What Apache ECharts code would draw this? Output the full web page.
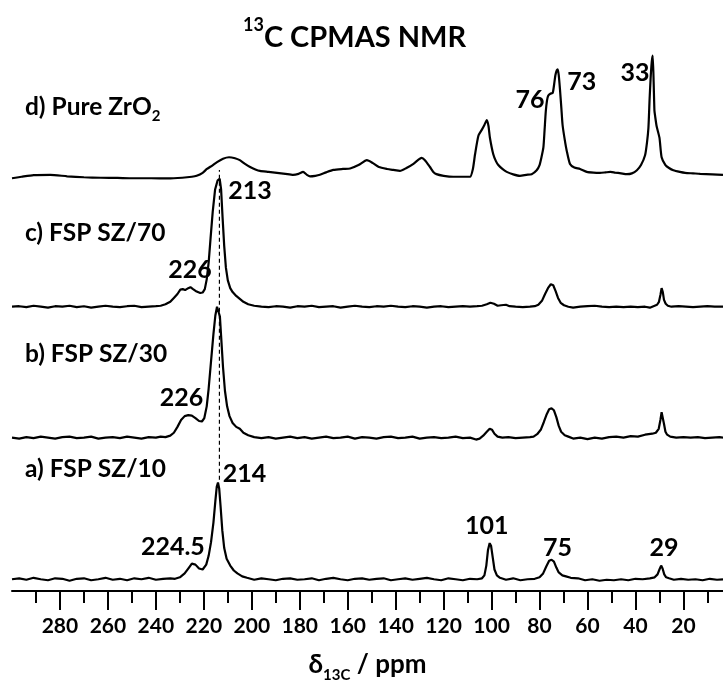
<!DOCTYPE html>
<html lang="en">
<head>
    <meta charset="UTF-8">
    <title>13C CPMAS NMR</title>
    <script src="https://cdn.jsdelivr.net/npm/echarts@6/dist/echarts.min.js"></script>
    <style>
        body { margin: 0; padding: 0; background: #fff; }
        #chart { width: 723px; height: 688px; }
    </style>
</head>
<body>
<div id="chart"></div>
<script>
    // axis ticks (ppm)
    const majorTicks = [280, 260, 240, 220, 200, 180, 160, 140, 120, 100, 80, 60, 40, 20];
    const minorTicks = [290, 270, 250, 230, 210, 190, 170, 150, 130, 110, 90, 70, 50, 30, 10];

    // spectra: [ppm, intensity above own baseline]
    const specA = [
        [300,0],[297,1],[294,-0.5],[291,1.5],[288,0],[285,-1],[282,1],[279,0.5],[276,-1.5],[273,0.5],[270,1],[267,-1],[264,0],[261,1.5],[258,-0.5],[255,0.5],[252,-1],[249,1],[246,0],[243,1.5],[240,-0.5],[237,0.5],[234,1],[232,0.5],[230,2],[228,6],[226.5,11],[225,16],[223.5,15],[222,11],[220.5,10],[219,15],[218,24],[217,38],[216,58],[215.2,80],[214.6,95],[214.1,99],[213.6,93],[213,74],[212.3,50],[211.5,32],[210.5,21],[209,14],[207.5,9],[206,6],[204,3],[202,1.5],[199,-0.5],[196,1],[193,0],[190,-1],[187,0.5],[184,1],[181,-0.5],[178,0],[175,1],[172,-1],[169,0.5],[166,1.5],[163,0],[160,-1],[157,0.5],[154,1],[151,-0.5],[148,0.5],[145,1],[142,-1],[139,0],[136,1],[133,-0.5],[130,0.5],[127,1.5],[124,0],[121,-1],[118,1],[115,0],[112,-1],[109,0.5],[106,0],[104,1],[103,4],[102.2,14],[101.5,30],[100.8,37],[100.2,34],[99.5,22],[98.8,10],[97.8,4],[96.5,1.5],[94,-0.5],[91,1],[88,-1],[85,0],[82,0.5],[80,2],[78.5,6],[77.2,13],[76,19],[75,20],[74,18],[73,12],[72,7],[70.5,4],[69,3],[67,1.5],[64,1],[61,-1],[58,0],[55,-1.5],[52,-0.5],[49,-1],[46,0],[43,-1],[40,0.5],[37,0],[34,1],[32,2],[30.8,5],[30,10],[29.3,14],[28.7,11],[28,5],[27.2,2],[26,1],[24,-0.5],[21,0.5],[18,-0.5],[15,0],[12,-1],[9,0.5],[6,-0.5],[3.5,0]
    ];
    const specB = [
        [300,0],[297,-1],[294,0.5],[291,-0.5],[288,1],[285,0],[282,-1],[279,0.5],[276,1],[273,-0.5],[270,0],[267,1],[264,-1],[261,0],[258,0.5],[255,-0.5],[252,1],[249,0],[246,-1],[243,0.5],[240,0],[238,1],[236,0.5],[234,2],[232.5,5],[231,11],[229.5,18],[228,22],[226.5,23],[225,22.5],[223.5,20],[222,17],[220.8,16.5],[219.8,20],[218.8,32],[218,50],[217,78],[216,106],[215.2,125],[214.5,134],[213.9,135],[213.3,124],[212.7,100],[212,72],[211.2,48],[210.3,32],[209.3,22],[208,15],[206.5,11],[205,9],[203.5,5],[201.5,2.5],[199,0.5],[196,-0.5],[193,0.5],[190,-1],[187,0],[184,1],[181,-0.5],[178,0.5],[175,-1],[172,0],[169,1],[166,-0.5],[163,0],[160,1],[157,-1],[154,0.5],[151,0],[148,-1],[145,0.5],[142,1],[139,-0.5],[136,0],[133,1],[130,-1],[127,0],[124,0.5],[121,-0.5],[118,0],[115,1],[112,-0.5],[109,0],[106.5,-2],[105,-1],[103.5,2],[102,6],[100.8,9],[99.8,8],[98.8,4],[97.5,1],[95.5,0],[93,0.5],[90,-0.5],[87,0],[84,0.5],[82.5,1],[81,3.5],[79.5,8],[78.2,16],[77,24],[76,29],[75,30],[74,28],[73,21],[72,12],[71,6],[69.5,2.5],[68,1],[66,-1],[63,0],[60,-1.5],[57,0],[54,-1],[51,0.5],[48,1],[45,0],[42,1.5],[39,1],[36,3],[33,4],[31.5,5],[30.3,9],[29.6,18],[29.1,26],[28.6,24],[28.1,14],[27.5,6],[26.8,3],[25.5,1],[23,0],[20,0.5],[17,0],[14,0.5],[11,-0.5],[8,0],[5,0.5],[3.5,0]
    ];
    const specC = [
        [300,0],[297,0.5],[294,-0.5],[291,1],[288,0],[285,-1],[282,0.5],[279,0],[276,1],[273,-0.5],[270,0.5],[267,-1],[264,0],[261,1],[258,0],[255,-0.5],[252,0.5],[249,1],[246,-0.5],[243,0],[240,0.5],[238,1],[236,2.5],[234,5],[232.5,9],[231,13],[229.8,17.5],[228.8,18],[227.8,17],[226.5,19],[225.6,20],[224.5,18],[223,15.5],[221.5,14],[220.5,14.5],[219.6,18],[218.8,28],[218,45],[217.2,70],[216.3,97],[215.3,120],[214.3,129],[213.4,131],[212.8,120],[212.2,92],[211.5,62],[210.8,40],[210,27],[209,19],[208,15],[206.5,11],[205,8],[203.5,5],[201.5,2.5],[199,1],[196,0],[193,-0.5],[190,0.5],[187,0],[184,-1],[181,0.5],[178,0],[175,1],[172,-0.5],[169,0],[166,0.5],[163,-1],[160,0],[157,1],[154,0],[151,-0.5],[148,0.5],[145,0],[142,1],[139,0],[136,-0.5],[133,0.5],[130,0],[127,-1],[124,0],[121,0.5],[118,-0.5],[115,0],[112,0.5],[109,0],[106,0.5],[104,1],[102,2.5],[100.5,4],[99,3],[97.5,1],[96,1.5],[94,2],[92.5,0.5],[90,0],[87,-0.5],[84,0],[82,0.5],[80.5,2],[79,6],[77.7,13],[76.5,19],[75.3,23],[74.3,22],[73.3,16],[72.3,9],[71.2,4],[69.8,1.5],[68,0],[66,-1],[63,0],[60,0.5],[57,1],[54,0],[51,-0.5],[48,0],[45,-0.5],[42,0],[39,-0.5],[36,0],[34,-1],[32.5,0.5],[31,2],[30.2,5],[29.6,12],[29.1,19],[28.6,15],[28.1,7],[27.4,3],[26.5,1],[25,0],[22,0.5],[19,0],[16,-0.5],[13,0],[10,0.5],[7,0],[3.5,0]
    ];
    const specD = [
        [300,-1.5],[296,0],[291,1.7],[284,2],[277,0.5],[270,-0.5],[263,-1],[256,-1.2],[249.5,-1.5],[242,-1.5],[235,-1.7],[229,-1],[225,0],[223,1],[220.5,4],[218.7,8],[216.5,11.5],[214.5,15],[212,18.5],[209.5,20],[207,19],[205,17],[203,13.5],[200.7,10],[198.5,7.5],[196.6,6],[193,5],[189.5,4],[186,3],[182.8,2],[180.5,3],[178.6,5],[177,2],[175.7,0.5],[173.5,1],[171.6,2],[169,4.5],[166,7],[162,8],[159,8.5],[155.5,12],[152,17],[149.5,14],[147,10],[143.6,8],[141,7],[138.2,6],[135.5,9],[132.6,13.3],[130.5,17.5],[129.2,19.3],[127.8,17],[125.7,10],[124.3,5],[123,2.7],[120,1],[116,0],[112,0],[109,0],[107.8,8],[106.9,23],[105.5,42],[104.1,48],[103,53],[102,58],[101.3,52],[100.7,40],[99.3,23],[98.2,16],[97.2,12],[95.5,8],[93.7,5],[91,2.5],[88.2,1],[85.5,2],[83.3,2.7],[81.2,6.7],[80,12],[79.2,20],[78.4,30],[77.9,48],[77.4,67],[76.9,78],[76.4,83],[75.5,85],[74.5,86],[73.9,95],[73.4,104],[72.8,109],[72.4,110],[72,104],[71.5,90],[70.9,70],[70.4,53],[69.5,38],[68.7,27],[67.3,13],[65.5,9.5],[63.1,8],[60.3,5],[57.5,4.2],[54.8,4],[52.5,4.5],[50.5,5],[48.5,4.3],[46,3.5],[43.6,2.7],[41.5,3.5],[39.4,6.7],[37.7,12],[36,22],[35.2,35],[34.6,50],[34.1,80],[33.7,100],[33.2,118],[32.8,124],[32.4,95],[32.1,68],[31.8,62],[31.2,52],[30,40],[29.1,20],[27.5,12],[26,9],[24.2,6.7],[21.5,5],[19.3,4],[16,3.5],[13,3],[8,2.5],[3.5,2]
    ];

    // vertical stacking of the four traces
    const baselines = { a: 12, b: 157, c: 291, d: 424 };

    // dashed guide line at ~213.5 ppm
    const guideLine = [[213.5, 114], [213.5, 431]];

    // peak annotations: [ppm, y, text]
    const peakLabels = [
        [40.2, 530, '33'], [62.4, 521, '73'], [84, 502.5, '76'],
        [200.8, 410, '213'], [225.8, 328.5, '226'],
        [229.3, 198, '226'],
        [203, 120, '214'], [232.9, 45, '224.5'], [102, 66.5, '101'], [72.5, 44.5, '75'], [28.1, 44.5, '29']
    ];
    const traceNames = [
        [294.6, 495, '{n|d) Pure ZrO}{s|2}'],
        [294.6, 366, '{n|c) FSP SZ/70}'],
        [294.6, 243, '{n|b) FSP SZ/30}'],
        [294.6, 125, '{n|a) FSP SZ/10}']
    ];

    const FONT = 'Lato';
    const W = 'bold';
    const chart = echarts.init(document.getElementById('chart'));

    const shift = (arr, off) => arr.map(p => [p[0], p[1] + off]);
    const trace = (name, arr, off, smooth) => ({
        name: name,
        type: 'line',
        data: shift(arr, off),
        showSymbol: false,
        symbol: 'none',
        smooth: smooth,
        lineStyle: { color: '#000', width: 2.2 },
        z: 3
    });

    chart.setOption({
        animation: false,
        title: {
            text: '{sup|13}{t|C CPMAS NMR}',
            left: 238,
            top: 11,
            textStyle: {
                rich: {
                    sup: { fontFamily: FONT, fontWeight: W, fontSize: 18, lineHeight: 18, verticalAlign: 'top', color: '#000' },
                    t: { fontFamily: FONT, fontWeight: W, fontSize: 29, lineHeight: 44, color: '#000' }
                }
            }
        },
        grid: { left: 12, right: 0, top: 40, bottom: 84 },
        xAxis: [
            {
                type: 'value', min: 3.5, max: 300, inverse: true, position: 'bottom',
                axisLine: { lineStyle: { color: '#000', width: 2 } },
                axisTick: { customValues: minorTicks, length: 12, lineStyle: { color: '#000', width: 2 } },
                axisLabel: { show: false },
                splitLine: { show: false }
            },
            {
                type: 'value', min: 3.5, max: 300, inverse: true, position: 'bottom',
                axisLine: { show: false },
                axisTick: { customValues: majorTicks, length: 19, lineStyle: { color: '#000', width: 2 } },
                axisLabel: {
                    customValues: majorTicks, margin: 25, color: '#000',
                    fontFamily: FONT, fontWeight: W, fontSize: 21
                },
                splitLine: { show: false },
                name: '{t|δ}{s|13C}{t| / ppm}',
                nameLocation: 'middle',
                nameGap: 56,
                nameTextStyle: {
                    rich: {
                        t: { fontFamily: FONT, fontWeight: W, fontSize: 26, lineHeight: 36, color: '#000' },
                        s: { fontFamily: FONT, fontWeight: W, fontSize: 15, lineHeight: 15, verticalAlign: 'bottom', color: '#000' }
                    }
                }
            }
        ],
        yAxis: { type: 'value', min: 0, max: 564, show: false },
        series: [
            trace('a', specA, baselines.a, false),
            trace('b', specB, baselines.b, false),
            trace('c', specC, baselines.c, false),
            trace('d', specD, baselines.d, 0.2),
            {
                type: 'line', data: guideLine, symbol: 'none', z: 2,
                lineStyle: { color: '#000', width: 1.2, type: [4, 3] }
            },
            {
                type: 'scatter', symbolSize: 0, z: 5,
                itemStyle: { opacity: 1 },
                data: peakLabels.map(d => ({ value: [d[0], d[1]], name: d[2] })),
                label: {
                    show: true, position: 'inside', formatter: '{b}', color: '#000',
                    fontFamily: FONT, fontWeight: W, fontSize: 25
                }
            },
            {
                type: 'scatter', symbolSize: 0, z: 5,
                itemStyle: { opacity: 1 },
                data: traceNames.map(d => ({ value: [d[0], d[1]], name: d[2] })),
                label: {
                    show: true, position: 'inside', align: 'left', formatter: '{b}',
                    rich: {
                        n: { fontFamily: FONT, fontWeight: W, fontSize: 24.5, lineHeight: 32, color: '#000' },
                        s: { fontFamily: FONT, fontWeight: W, fontSize: 15, lineHeight: 15, verticalAlign: 'bottom', color: '#000' }
                    }
                }
            }
        ]
    });
</script>
</body>
</html>
